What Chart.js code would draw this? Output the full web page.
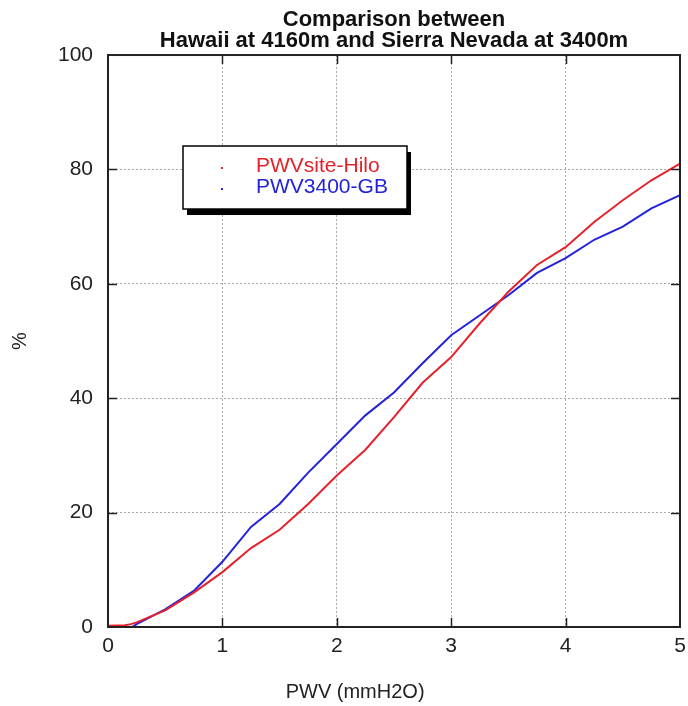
<!DOCTYPE html>
<html>
<head>
<meta charset="utf-8">
<script src="https://cdn.jsdelivr.net/npm/chart.js@4"></script>
<style>
html, body { margin: 0; padding: 0; background: #fff; }
</style>
</head>
<body>
<canvas id="myChart" width="688" height="706"></canvas>
<script>
// values
var hiloX = [0, 0.15, 0.2, 0.25, 0.5, 0.75, 1, 1.25, 1.5, 1.75, 2, 2.25, 2.5, 2.75, 3, 3.25, 3.5, 3.75, 4, 4.25, 4.5, 4.75, 5];
var hiloY = [0.2, 0.3, 0.5, 0.8, 2.9, 6.0, 9.6, 13.8, 17, 21.5, 26.5, 31, 36.7, 42.7, 47.2, 53.1, 58.6, 63.3, 66.4, 70.8, 74.6, 78.1, 81];
var gbX = [0.21, 0.25, 0.5, 0.75, 1, 1.25, 1.5, 1.75, 2, 2.25, 2.5, 2.75, 3, 3.25, 3.5, 3.75, 4, 4.25, 4.5, 4.75, 5];
var gbY = [0, 0.5, 3.1, 6.3, 11.4, 17.5, 21.5, 27, 32, 37, 41, 46.1, 51, 54.5, 58, 61.9, 64.5, 67.7, 70, 73.2, 75.5];
var titleLines = ['Comparison between', 'Hawaii at 4160m and Sierra Nevada at 3400m'];
var xLabel = 'PWV (mmH2O)';
var yLabel = '%';

var RED = '#e5222b';
var BLUE = '#2323dc';
var FONT = '"Liberation Sans", Arial, Helvetica, sans-serif';

function pts(xs, ys) {
    let out = [];
    for (let i = 0; i < xs.length; i++) out.push({x: xs[i], y: ys[i]});
    return out;
}

// frame, inward tick marks, legend box, x title
var decor = {
    id: 'decor',
    afterDatasetsDraw: function(chart) {
        var c = chart.ctx, a = chart.chartArea;
        var sx = chart.scales.x, sy = chart.scales.y;
        c.save();
        c.strokeStyle = '#222';
        c.lineWidth = 1.5;
        c.beginPath();
        sx.ticks.forEach(function(t) {
            if (t.value <= sx.min || t.value >= sx.max) return;
            var px = Math.round(sx.getPixelForValue(t.value)) + 0.5;
            c.moveTo(px, a.bottom); c.lineTo(px, a.bottom - 9);
            c.moveTo(px, a.top); c.lineTo(px, a.top + 9);
        });
        sy.ticks.forEach(function(t) {
            if (t.value <= sy.min || t.value >= sy.max) return;
            var py = Math.round(sy.getPixelForValue(t.value)) + 0.5;
            c.moveTo(a.left, py); c.lineTo(a.left + 9, py);
            c.moveTo(a.right, py); c.lineTo(a.right - 9, py);
        });
        c.stroke();
        c.lineWidth = 2;
        c.strokeRect(a.left, a.top, a.right - a.left, a.bottom - a.top);
        c.restore();
    },
    afterDraw: function(chart) {
        var c = chart.ctx, a = chart.chartArea;
        c.save();
        // legend
        var bx = a.left + 75, by = a.top + 91, bw = 224, bh = 63;
        c.fillStyle = '#000';
        c.fillRect(bx + 4, by + 6, bw, bh);
        c.fillStyle = '#fff';
        c.fillRect(bx, by, bw, bh);
        c.strokeStyle = '#000';
        c.lineWidth = 1.5;
        c.strokeRect(bx, by, bw, bh);
        c.font = '21px ' + FONT;
        c.textBaseline = 'middle';
        chart.data.datasets.forEach(function(ds, i) {
            var ty = by + 20 + i * 21;
            c.fillStyle = ds.borderColor;
            c.fillRect(bx + 38, ty + 1, 2, 2);
            c.fillText(ds.label, bx + 73, ty);
        });
        // x axis title
        c.fillStyle = '#222';
        c.font = '20px ' + FONT;
        c.textAlign = 'center';
        c.fillText(xLabel, a.left + 0.432 * (a.right - a.left), 692);
        c.restore();
    }
};

var ctx = document.getElementById('myChart').getContext('2d');
var chart = new Chart(ctx, {
    type: 'line',
    data: {
        datasets: [
            {
                label: 'PWVsite-Hilo',
                data: pts(hiloX, hiloY),
                borderColor: RED,
                backgroundColor: RED,
                borderWidth: 2,
                pointRadius: 0,
                tension: 0
            },
            {
                label: 'PWV3400-GB',
                data: pts(gbX, gbY),
                borderColor: BLUE,
                backgroundColor: BLUE,
                borderWidth: 2,
                pointRadius: 0,
                tension: 0
            }
        ]
    },
    options: {
        responsive: false,
        animation: false,
        devicePixelRatio: 1,
        layout: { padding: 0 },
        plugins: {
            legend: { display: false },
            tooltip: { enabled: false },
            title: {
                display: true,
                text: titleLines,
                fullSize: false,
                color: '#111',
                font: { family: FONT, size: 22, weight: 'bold', lineHeight: 0.955 },
                padding: { top: 9, bottom: 4 }
            }
        },
        scales: {
            x: {
                type: 'linear',
                min: 0,
                max: 5,
                afterFit: function(s) {
                    s.height = 79;
                    s.paddingLeft = 0;
                    s.paddingRight = 8;
                },
                ticks: { stepSize: 1, color: '#222', padding: 7, font: { family: FONT, size: 21 } },
                grid: { color: '#aaa', lineWidth: 1, drawTicks: false },
                border: { display: false, dash: [2, 2] }
            },
            y: {
                min: 0,
                max: 100,
                afterFit: function(s) {
                    s.width = 108;
                    s.paddingTop = 0;
                    s.paddingBottom = 0;
                },
                ticks: { stepSize: 20, color: '#222', padding: 15, font: { family: FONT, size: 21 } },
                grid: { color: '#aaa', lineWidth: 1, drawTicks: false },
                border: { display: false, dash: [2, 2] },
                title: {
                    display: true,
                    text: yLabel,
                    color: '#222',
                    font: { family: FONT, size: 20 },
                    padding: { top: 8, bottom: 0 }
                }
            }
        }
    },
    plugins: [decor]
});
</script>
</body>
</html>
